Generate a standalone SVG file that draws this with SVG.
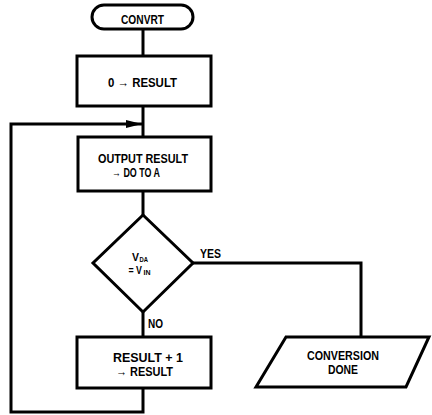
<svg xmlns="http://www.w3.org/2000/svg" width="432" height="415" viewBox="0 0 432 415">
<defs>
<style>
.s{fill:#fff;stroke:#000;stroke-width:3}
.c{fill:none;stroke:#000;stroke-width:3}
text{font-family:"Liberation Sans",Arial,sans-serif;font-weight:bold;font-size:12.5px;fill:#000}
.d{font-size:11px}
.sub{font-size:8px}
</style>
<marker id="arr" markerUnits="userSpaceOnUse" markerWidth="16" markerHeight="10" refX="16" refY="5" orient="auto">
<path d="M0,1 L16,5 L0,9 Z" fill="#000"/>
</marker>
</defs>
<rect width="432" height="415" fill="#fff"/>
<g id="connectors">
<line class="c" x1="143" y1="29" x2="143" y2="56"/>
<line class="c" x1="143" y1="106" x2="143" y2="137"/>
<line class="c" x1="143" y1="191" x2="143" y2="215"/>
<line class="c" x1="143" y1="312" x2="143" y2="337"/>
<polyline class="c" points="143,388 143,412 11,412 11,124 142,124" marker-end="url(#arr)"/>
<polyline class="c" points="193,263 361,263 361,337"/>
<text x="200" y="258" textLength="21" lengthAdjust="spacingAndGlyphs">YES</text>
<text x="148" y="328" textLength="15" lengthAdjust="spacingAndGlyphs">NO</text>
</g>
<g id="start">
<rect class="s" x="92" y="5" width="101" height="24" rx="12"/>
<text x="121" y="24" textLength="43" lengthAdjust="spacingAndGlyphs">CONVRT</text>
</g>
<g id="init">
<rect class="s" x="77" y="56" width="134" height="50"/>
<text x="108" y="87" textLength="69" lengthAdjust="spacingAndGlyphs">0 → RESULT</text>
</g>
<g id="output">
<rect class="s" x="78" y="137" width="133" height="54"/>
<text x="98" y="162.5" textLength="90" lengthAdjust="spacingAndGlyphs">OUTPUT RESULT</text>
<text x="112" y="176.5" textLength="48" lengthAdjust="spacingAndGlyphs">→ DO TO A</text>
</g>
<g id="compare">
<polygon class="s" points="143,215 193,263 143,312 93,263"/>
<text class="d" x="132" y="261" textLength="7" lengthAdjust="spacingAndGlyphs">V</text>
<text class="sub" x="139.5" y="261.5" textLength="8.5" lengthAdjust="spacingAndGlyphs">DA</text>
<text class="d" x="128.5" y="274" textLength="13.5" lengthAdjust="spacingAndGlyphs">= V</text>
<text class="sub" x="143.5" y="275" textLength="7" lengthAdjust="spacingAndGlyphs">IN</text>
</g>
<g id="increment">
<rect class="s" x="77" y="337" width="134" height="51"/>
<text x="113" y="362" textLength="70" lengthAdjust="spacingAndGlyphs">RESULT + 1</text>
<text x="116" y="376" textLength="57" lengthAdjust="spacingAndGlyphs">→ RESULT</text>
</g>
<g id="done">
<polygon class="s" points="286,337 429,337 406,387 256,387"/>
<text x="307" y="359.5" textLength="72" lengthAdjust="spacingAndGlyphs">CONVERSION</text>
<text x="328" y="373.5" textLength="30" lengthAdjust="spacingAndGlyphs">DONE</text>
</g>
</svg>
